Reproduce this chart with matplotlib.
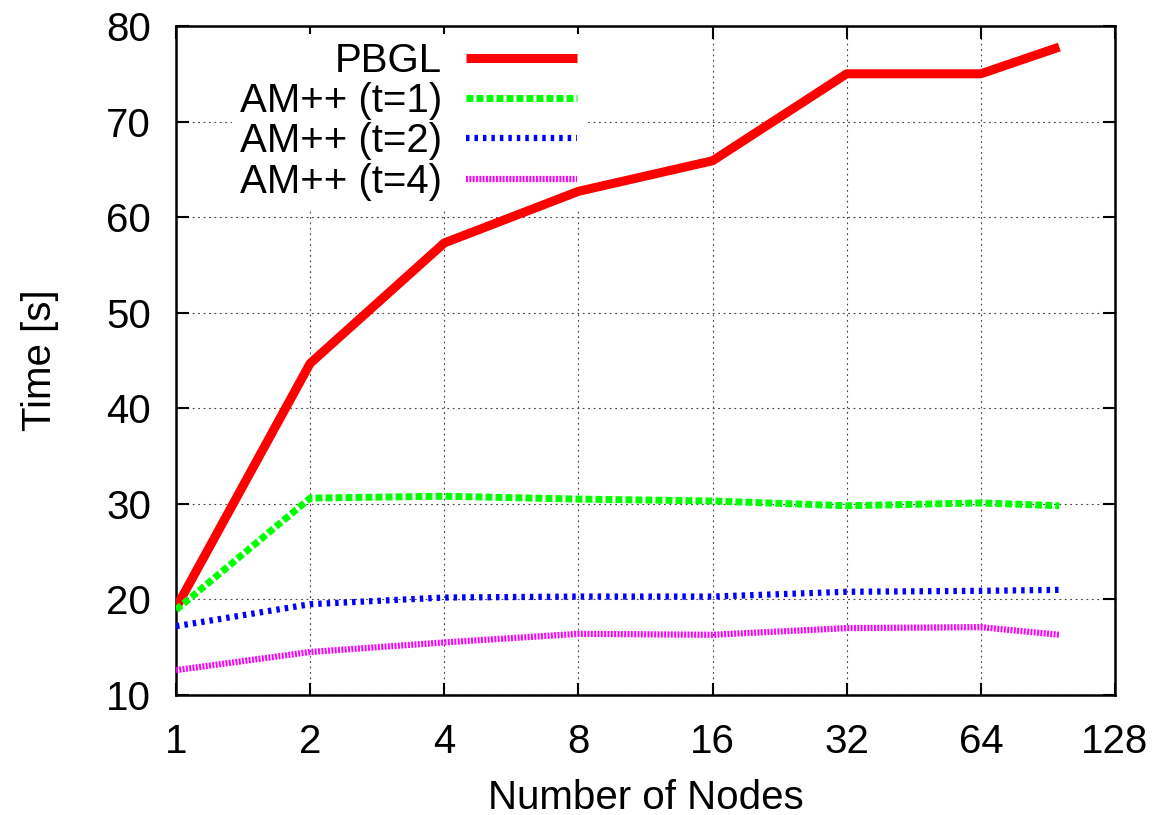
import numpy as np
from matplotlib import pyplot as plt

plt.rcParams['font.family'] = ['Liberation Sans', 'DejaVu Sans']
plt.rcParams['lines.scale_dashes'] = False

# data
nodes = [1, 2, 4, 8, 16, 32, 64, 96]
pbgl = [19.1, 44.7, 57.3, 62.7, 65.9, 75.0, 75.0, 77.8]
am_t1 = [18.9, 30.6, 30.8, 30.5, 30.3, 29.8, 30.1, 29.8]
am_t2 = [17.2, 19.5, 20.2, 20.3, 20.3, 20.8, 20.9, 21.0]
am_t4 = [12.6, 14.5, 15.5, 16.4, 16.3, 17.0, 17.1, 16.3]

xticks = [1, 2, 4, 8, 16, 32, 64, 128]
yticks = [10, 20, 30, 40, 50, 60, 70, 80]

fs = 29

fig = plt.figure(figsize=(11.55, 8.15), dpi=100)
ax = fig.add_axes([176/1155, 1 - 695/815, (1115-176)/1155, (695-26)/815])

# lines
ax.plot(nodes, pbgl, color='#ff0000', lw=6.5, solid_capstyle='butt', label='PBGL', zorder=3)
ax.plot(nodes, am_t1, color='#00ff00', lw=5, dashes=(5, 2.2), dash_capstyle='butt',
        label='AM++ (t=1)', zorder=3)
ax.plot(nodes, am_t2, color='#0000ff', lw=4.5, dashes=(2.5, 3.6), dash_capstyle='butt',
        label='AM++ (t=2)', zorder=3)
ax.plot(nodes, am_t4, color='#ff00ff', lw=4.5, dashes=(1.4, 1.0), dash_capstyle='butt',
        label='AM++ (t=4)', zorder=3)

ax.set_xscale('log', base=2)
ax.set_xlim(1, 128)
ax.set_ylim(10, 80)
ax.set_xticks(xticks)
ax.set_xticklabels([str(t) for t in xticks])
ax.set_yticks(yticks)
ax.minorticks_off()

ax.tick_params(direction='in', length=9, width=1.5, labelsize=fs,
               top=True, right=True)
ax.tick_params(axis='x', pad=20)
ax.tick_params(axis='y', pad=18)
for s in ax.spines.values():
    s.set_linewidth(1.8)

ax.grid(True, color='#444444', lw=0.8, linestyle=(0, (1.3, 2.6)), zorder=1)
ax.set_axisbelow(True)

ax.set_xlabel('Number of Nodes', fontsize=fs, labelpad=13)
ax.set_ylabel('Time [s]', fontsize=fs, labelpad=34)

leg = ax.legend(loc='upper right', bbox_to_anchor=((585-176)/939, (695-34)/669),
                fontsize=fs, markerfirst=False, frameon=True, fancybox=False,
                handlelength=2.75, handletextpad=0.6, labelspacing=0.055,
                borderpad=0.2, borderaxespad=0)
leg.get_frame().set_edgecolor('none')
leg.get_frame().set_facecolor('white')
leg.get_frame().set_alpha(1)
leg.set_zorder(2)

fig.savefig('out.png', dpi=100)
